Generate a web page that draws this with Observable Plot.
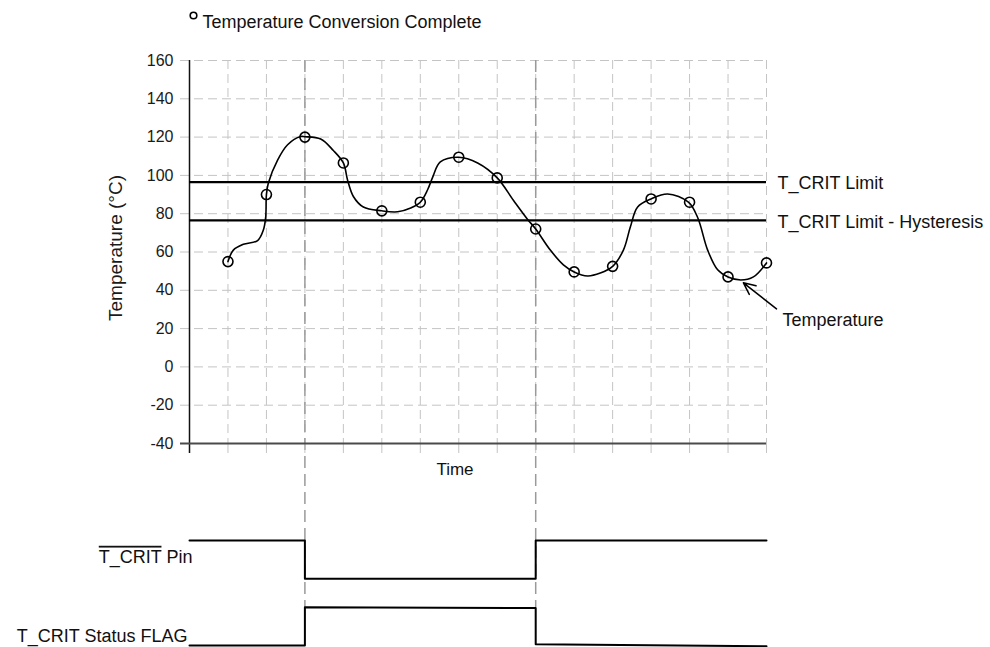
<!DOCTYPE html>
<html>
<head>
<meta charset="utf-8">
<script src="https://cdn.jsdelivr.net/npm/d3@7"></script>
<script src="https://cdn.jsdelivr.net/npm/@observablehq/plot@0.6"></script>
<style>
  html, body { margin: 0; padding: 0; background: #fff; }
  #wrap { position: relative; width: 990px; height: 647px; }
  #wrap > svg { position: absolute; left: 0; top: 0; }
  #wrap > svg.sig { pointer-events: none; }
</style>
</head>
<body>
<div id="wrap"></div>
<script>
// ---- data ----
const yTicks = [-40, -20, 0, 20, 40, 60, 80, 100, 120, 140, 160];
const timeGrid = [1, 2, 3, 4, 5, 6, 7, 8, 9, 10, 11, 12, 13, 14, 15];

// conversion samples (circles)
const sampleTime = [1, 2, 3, 4, 5, 6, 7, 8, 9, 10, 11, 12, 13, 14, 15];
const sampleTemp = [55, 90, 120, 106.5, 81.5, 86, 109.5, 98.7, 72, 49.6, 52.5, 87.7, 86, 47, 54.3];

// traced temperature curve
const curveTime = [1, 1.14, 1.4, 1.77, 1.92, 1.98, 2, 2.05, 2.29, 2.55,
  2.89, 3, 3.41, 3.74, 4, 4.11, 4.26, 4.52, 5, 5.41,
  5.75, 6, 6.19, 6.32, 6.52, 7, 7.49, 8, 8.42, 8.79,
  9, 9.38, 9.72, 10, 10.35, 10.68, 11, 11.28, 11.46, 11.65,
  12, 12.43, 12.97, 13.21, 13.47, 13.73, 14, 14.33, 14.66, 15];
const curveTemp = [55, 61, 64, 66, 71.5, 78, 90, 96, 108, 116,
  120.3, 120.2, 119, 113, 106.5, 97.5, 89, 83.5, 81.5, 81,
  83, 86, 92.5, 99, 107, 109.5, 106.5, 98.7, 87, 77,
  72, 61, 53.3, 49.6, 47.5, 49, 52.5, 61, 73, 83.5,
  87.7, 90.3, 86, 78, 61, 50.7, 47, 45.4, 47, 54.3];

// limits
const limitLabels = ["T_CRIT Limit", "T_CRIT Limit - Hysteresis"];
const limitValues = [96.5, 76.5];

// times where the T_CRIT events switch
const eventTimes = [3, 9];

// digital traces (logic levels)
const pinTime  = [0, 3, 3, 9, 9, 15];
const pinLevel = [1, 1, 0, 0, 1, 1];
const flagTime  = [0, 3, 3, 9, 9, 15];
const flagLevel = [0, 0, 1, 0.98, 0.03, -0.02];

// "Temperature" pointer annotation (time, temp)
const arrowFrom = [15.26, 30.3];
const arrowTo = [14.4, 43.9];

// ---- build tables ----
const samples = sampleTime.map((t, i) => ({t, v: sampleTemp[i]}));
const curve = curveTime.map((t, i) => ({t, v: curveTemp[i]}));
const limits = limitValues.map((v, i) => ({v, label: limitLabels[i]}));
const PIN_BASE = 1.75; // vertical offset of the pin trace above the flag trace
const pin = pinTime.map((t, i) => ({t, v: PIN_BASE + pinLevel[i]}));
const flag = flagTime.map((t, i) => ({t, v: flagLevel[i]}));

const FONT = "'Liberation Sans', Arial, sans-serif";
const grid = "#c4c4c4";

const main = Plot.plot({
  width: 990,
  height: 647,
  marginLeft: 189,
  marginRight: 224,
  marginTop: 60,
  marginBottom: 204,
  style: {fontFamily: FONT, fontSize: "16px", color: "#1a1a1a", background: "transparent"},
  x: {domain: [0, 15]},
  y: {domain: [-40, 160]},
  marks: [
    // grid
    Plot.ruleY(yTicks.filter(d => d > -40), {stroke: grid, strokeWidth: 1, strokeDasharray: "9,5", insetLeft: -9}),
    Plot.ruleX(timeGrid, {stroke: grid, strokeWidth: 1, strokeDasharray: "9,5"}),
    // event lines extending down to the digital traces
    Plot.ruleX(eventTimes, {stroke: "#9a9a9a", strokeWidth: 1.5, strokeDasharray: "12,6", insetBottom: -164}),
    // axes
    Plot.axisX({ticks: timeGrid, tickSize: 10, tickFormat: () => "", stroke: grid, label: null}),
    Plot.axisY({ticks: yTicks, tickSize: 0, tickPadding: 16, fontSize: 16, tickFormat: d => String(d), label: null}),
    Plot.ruleX([0], {stroke: "#111", strokeWidth: 1.5, insetBottom: -10}),
    Plot.ruleY([-40], {stroke: "#4a4a4a", strokeWidth: 2, insetLeft: -9}),
    Plot.text(["Temperature (°C)"], {frameAnchor: "left", textAnchor: "middle", rotate: -90, dx: -74, dy: -4, fontSize: 19, fill: "#1a1a1a"}),
    Plot.text(["Time"], {frameAnchor: "bottom", textAnchor: "middle", dx: -23, dy: 31, fontSize: 17, fill: "#111"}),
    // limits
    Plot.ruleY(limits, {y: "v", stroke: "#000", strokeWidth: 2.3}),
    Plot.text(limits, {y: "v", text: "label", frameAnchor: "right", textAnchor: "start", dx: 11, dy: 1.5, fontSize: 18, fill: "#111"}),
    // temperature curve + conversions
    Plot.line(curve, {x: "t", y: "v", curve: "catmull-rom", stroke: "#000", strokeWidth: 1.6}),
    Plot.dot(samples, {x: "t", y: "v", r: 5, stroke: "#000", strokeWidth: 1.6, fill: "none"}),
    // pointer
    Plot.arrow([{x1: arrowFrom[0], y1: arrowFrom[1], x2: arrowTo[0], y2: arrowTo[1]}],
      {x1: "x1", y1: "y1", x2: "x2", y2: "y2", stroke: "#000", strokeWidth: 1.5, headLength: 13, headAngle: 50}),
    Plot.text(["Temperature"], {x: [arrowFrom[0]], y: [arrowFrom[1]], textAnchor: "start", dx: 6, dy: 11, fontSize: 18, fill: "#111"}),
    // legend
    Plot.dot([0], {frameAnchor: "top-left", dx: 4, dy: -45, r: 3.3, stroke: "#000", strokeWidth: 1.6, fill: "none"}),
    Plot.text(["Temperature Conversion Complete"], {frameAnchor: "top-left", textAnchor: "start", dx: 13, dy: -45, fontSize: 18, fill: "#111"})
  ]
});

const sig = Plot.plot({
  width: 990,
  height: 647,
  marginLeft: 189,
  marginRight: 224,
  marginTop: 540,
  marginBottom: 2,
  style: {fontFamily: FONT, fontSize: "18px", color: "#111", background: "transparent"},
  x: {domain: [0, 15], axis: null},
  y: {domain: [0, 2.75], axis: null},
  marks: [
    Plot.line(pin, {x: "t", y: "v", stroke: "#000", strokeWidth: 2}),
    Plot.line(flag, {x: "t", y: "v", stroke: "#000", strokeWidth: 2}),
    Plot.text(["T_CRIT Pin"], {x: [0], y: [PIN_BASE + 1], textAnchor: "end", dx: 3, dy: 16.5, fontSize: 18, fill: "#111"}),
    Plot.text(["T_CRIT Status FLAG"], {x: [0], y: [0], textAnchor: "end", dx: -2, dy: -9, fontSize: 18, fill: "#111"})
  ]
});
sig.classList.add("sig");

// overline on T_CRIT of the pin label (active-low pin)
const svgns = "http://www.w3.org/2000/svg";
const pinText = [...sig.querySelectorAll("text")].find(n => n.textContent === "T_CRIT Pin");
if (pinText) {
  pinText.textContent = "";
  const a = document.createElementNS(svgns, "tspan");
  a.setAttribute("text-decoration", "overline");
  a.style.textDecoration = "overline";
  a.textContent = "T_CRIT";
  const b = document.createElementNS(svgns, "tspan");
  b.textContent = " Pin";
  pinText.appendChild(a);
  pinText.appendChild(b);
}

const wrap = document.getElementById("wrap");
wrap.appendChild(main);
wrap.appendChild(sig);
</script>
</body>
</html>
